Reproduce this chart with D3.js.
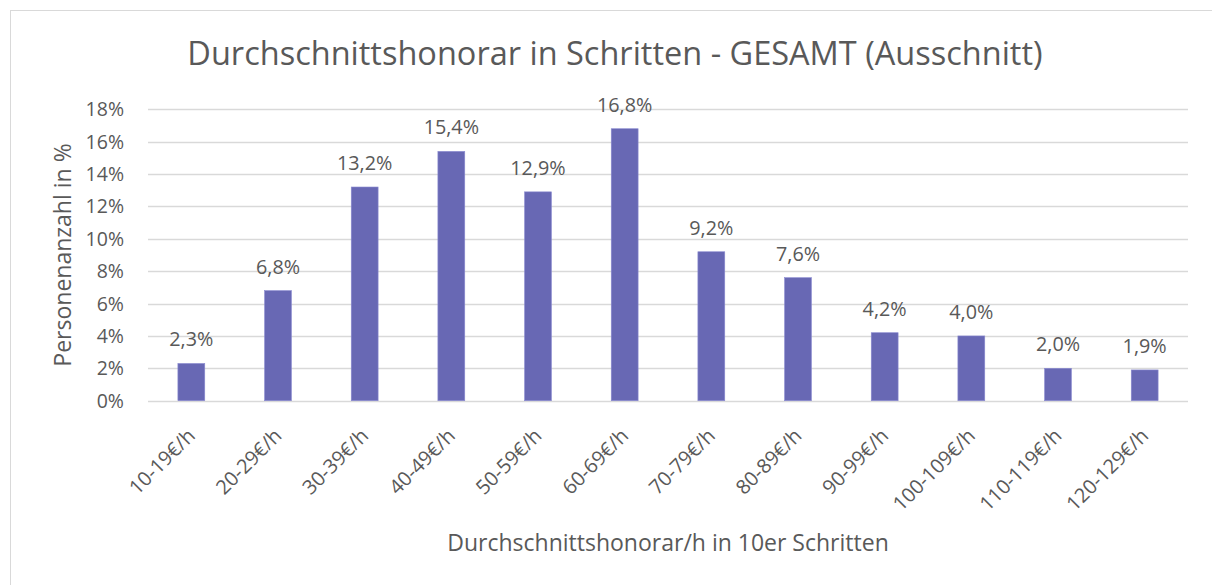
<!DOCTYPE html>
<html><head><meta charset="utf-8">
<script src="https://cdn.jsdelivr.net/npm/d3@7"></script>
<style>body{margin:0;background:#fff}svg text{font-family:"Open Sans",sans-serif;fill:#595959}</style>
</head><body>
<svg id="c" width="1212" height="585"></svg>
<script>
const categories = ["10-19€/h","20-29€/h","30-39€/h","40-49€/h","50-59€/h","60-69€/h","70-79€/h","80-89€/h","90-99€/h","100-109€/h","110-119€/h","120-129€/h"];
const values = [2.3, 6.8, 13.2, 15.4, 12.9, 16.8, 9.2, 7.6, 4.2, 4.0, 2.0, 1.9];
const yTicks = [0,2,4,6,8,10,12,14,16,18];
const title = "Durchschnittshonorar in Schritten - GESAMT (Ausschnitt)";
const xTitle = "Durchschnittshonorar/h in 10er Schritten";
const yTitle = "Personenanzahl in %";

const svg = d3.select("#c");
svg.append("rect").attr("x",10.5).attr("y",10.5).attr("width",1230).attr("height",600)
  .attr("fill","#fff").attr("stroke","#d9d9d9");

const pL=148, pR=1188, pT=109.3, pB=400.7;
const x = d3.scaleBand().domain(categories).range([pL,pR]).paddingInner(0.69).paddingOuter(0.345);
const y = d3.scaleLinear().domain([0,18]).range([pB,pT]);

svg.append("g").selectAll("line").data(yTicks).join("line")
  .attr("x1",pL).attr("x2",pR).attr("y1",d=>Math.round(y(d))+0.5).attr("y2",d=>Math.round(y(d))+0.5)
  .attr("stroke","#d9d9d9").attr("stroke-width",1.3);

svg.append("g").selectAll("text").data(yTicks).join("text")
  .attr("x",124).attr("y",d=>y(d)+7).attr("text-anchor","end").attr("font-size",19.5)
  .text(d=>d+"%");

svg.append("g").selectAll("rect").data(values).join("rect")
  .attr("x",(d,i)=>x(categories[i])).attr("width",x.bandwidth())
  .attr("y",d=>y(d)).attr("height",d=>y(0)-y(d))
  .attr("fill","#6868b4").attr("stroke","#8a8ad0").attr("stroke-width",0.6);

svg.append("g").selectAll("text").data(values).join("text")
  .attr("x",(d,i)=>x(categories[i])+x.bandwidth()/2).attr("y",d=>y(d)-17)
  .attr("text-anchor","middle").attr("font-size",19.8)
  .text(d=>d.toFixed(1).replace(".",",")+"%");

svg.append("g").selectAll("text").data(categories).join("text")
  .attr("transform",(d)=>`translate(${x(d)+x.bandwidth()/2+5},${437}) rotate(-45)`)
  .attr("text-anchor","end").attr("font-size",20)
  .text(d=>d);

svg.append("text").attr("x",615).attr("y",65).attr("text-anchor","middle").attr("font-size",32.5).text(title);
svg.append("text").attr("x",668).attr("y",551).attr("text-anchor","middle").attr("font-size",23).text(xTitle);
svg.append("text").attr("transform","translate(71,255) rotate(-90)").attr("text-anchor","middle").attr("font-size",23).text(yTitle);
</script>
</body></html>
